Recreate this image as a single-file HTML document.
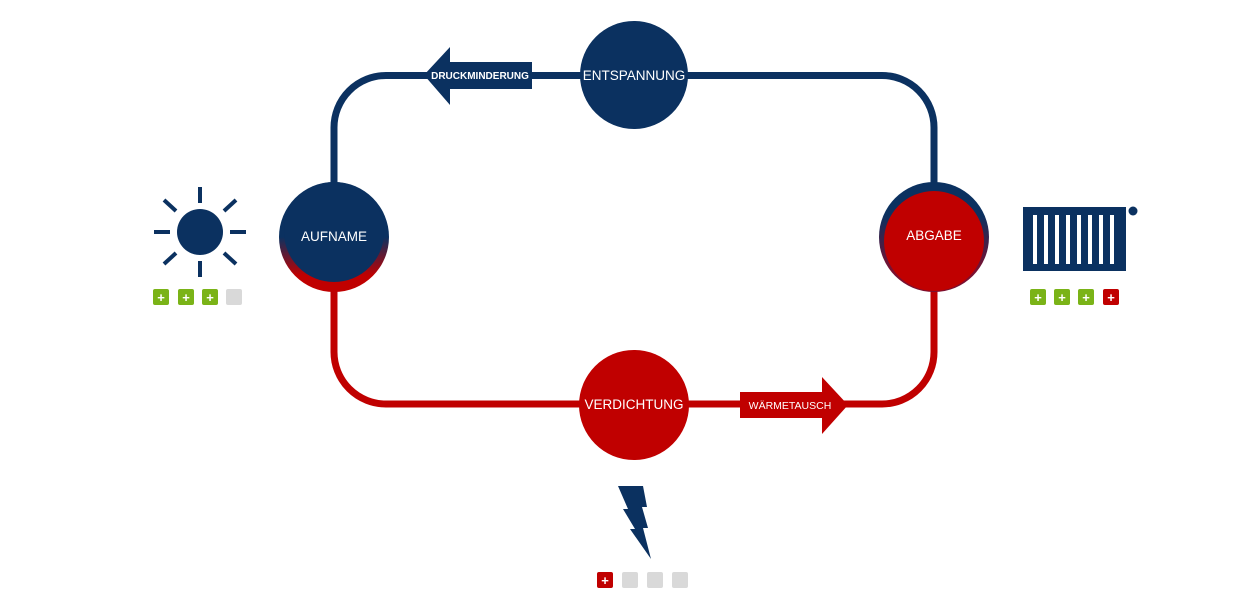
<!DOCTYPE html>
<html><head><meta charset="utf-8"><style>
html,body{margin:0;padding:0;background:#fff;}
svg{display:block;}
text{font-family:"Liberation Sans",sans-serif;fill:#fff;}
</style></head><body>
<svg width="1260" height="600" viewBox="0 0 1260 600" xmlns="http://www.w3.org/2000/svg">
<defs>
<linearGradient id="lg" x1="0" y1="75" x2="0" y2="405" gradientUnits="userSpaceOnUse">
<stop offset="0" stop-color="#0b3160"/>
<stop offset="0.33" stop-color="#0b3160"/>
<stop offset="0.67" stop-color="#c00000"/>
<stop offset="1" stop-color="#c00000"/>
</linearGradient>
<linearGradient id="rg" x1="0" y1="182" x2="0" y2="292" gradientUnits="userSpaceOnUse">
<stop offset="0.5" stop-color="#0b3160"/>
<stop offset="0.85" stop-color="#c00000"/>
</linearGradient>
<linearGradient id="rg2" x1="0" y1="182" x2="0" y2="292" gradientUnits="userSpaceOnUse">
<stop offset="0.3" stop-color="#0b3160"/>
<stop offset="0.8" stop-color="#7a1030"/>
</linearGradient>
</defs>
<path d="M386 75.5 H882 A52 52 0 0 1 934 127.5 V352 A52 52 0 0 1 882 404 H386 A52 52 0 0 1 334 352 V127.5 A52 52 0 0 1 386 75.5 Z" fill="none" stroke="url(#lg)" stroke-width="7"/>
<polygon points="424,75 450,47 450,62 532,62 532,89 450,89 450,105" fill="#0b3160"/>
<text x="480" y="79" font-size="10" font-weight="bold" text-anchor="middle">DRUCKMINDERUNG</text>
<polygon points="740,392 822,392 822,377 848,405 822,434 822,418 740,418" fill="#c00000"/>
<text x="790" y="409" font-size="10.5" text-anchor="middle">WÄRMETAUSCH</text>
<circle cx="634" cy="75" r="54" fill="#0b3160"/>
<text x="634" y="80" font-size="13.5" text-anchor="middle">ENTSPANNUNG</text>
<circle cx="334" cy="237" r="55" fill="url(#rg)"/>
<circle cx="334" cy="232" r="50" fill="#0b3160"/>
<text x="334" y="241" font-size="13.5" text-anchor="middle">AUFNAME</text>
<circle cx="934" cy="237" r="55" fill="url(#rg2)"/>
<circle cx="934" cy="241" r="50" fill="#c00000"/>
<text x="934" y="240" font-size="13.5" text-anchor="middle">ABGABE</text>
<circle cx="634" cy="405" r="55" fill="#c00000"/>
<text x="634" y="409" font-size="13.5" text-anchor="middle">VERDICHTUNG</text>
<g stroke="#0b3160" stroke-width="4">
<circle cx="200" cy="232" r="23" fill="#0b3160" stroke="none"/>
<line x1="200" y1="187" x2="200" y2="203"/>
<line x1="200" y1="261" x2="200" y2="277"/>
<line x1="154" y1="232" x2="170" y2="232"/>
<line x1="230" y1="232" x2="246" y2="232"/>
<line x1="164" y1="200" x2="176" y2="211"/>
<line x1="224" y1="253" x2="236" y2="264"/>
<line x1="236" y1="200" x2="224" y2="211"/>
<line x1="176" y1="253" x2="164" y2="264"/>
</g>
<rect x="1023" y="207" width="103" height="64" fill="#0b3160"/>
<g fill="#fff">
<rect x="1033" y="215" width="4" height="49"/><rect x="1044" y="215" width="4" height="49"/>
<rect x="1055" y="215" width="4" height="49"/><rect x="1066" y="215" width="4" height="49"/>
<rect x="1077" y="215" width="4" height="49"/><rect x="1088" y="215" width="4" height="49"/>
<rect x="1099" y="215" width="4" height="49"/><rect x="1110" y="215" width="4" height="49"/>
</g>
<circle cx="1133" cy="211" r="4.5" fill="#0b3160"/>
<polygon points="618,486 643,486 647,507 642,507 648,528 643,528 651,559 630,529 635,529 623,509 628,509" fill="#0b3160"/>
<g font-size="13" font-weight="bold" text-anchor="middle">
<rect x="153" y="289" width="16" height="16" rx="2" fill="#7ab317"/><text x="161" y="302">+</text>
<rect x="178" y="289" width="16" height="16" rx="2" fill="#7ab317"/><text x="186" y="302">+</text>
<rect x="202" y="289" width="16" height="16" rx="2" fill="#7ab317"/><text x="210" y="302">+</text>
<rect x="226" y="289" width="16" height="16" rx="2" fill="#d9d9d9"/>
<rect x="1030" y="289" width="16" height="16" rx="2" fill="#7ab317"/><text x="1038" y="302">+</text>
<rect x="1054" y="289" width="16" height="16" rx="2" fill="#7ab317"/><text x="1062" y="302">+</text>
<rect x="1078" y="289" width="16" height="16" rx="2" fill="#7ab317"/><text x="1086" y="302">+</text>
<rect x="1103" y="289" width="16" height="16" rx="2" fill="#c00000"/><text x="1111" y="302">+</text>
<rect x="597" y="572" width="16" height="16" rx="2" fill="#c00000"/><text x="605" y="585">+</text>
<rect x="622" y="572" width="16" height="16" rx="2" fill="#d9d9d9"/>
<rect x="647" y="572" width="16" height="16" rx="2" fill="#d9d9d9"/>
<rect x="672" y="572" width="16" height="16" rx="2" fill="#d9d9d9"/>
</g>
</svg>
</body></html>
